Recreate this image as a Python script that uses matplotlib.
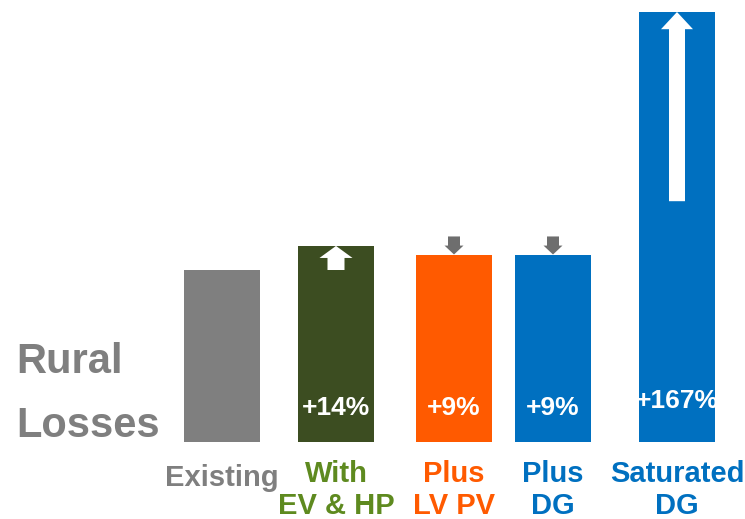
import matplotlib.pyplot as plt
from matplotlib.patches import Polygon

plt.rcParams['font.family'] = ['Liberation Sans', 'DejaVu Sans']
plt.rcParams['font.weight'] = 'bold'

# data
categories = ['Existing', 'With\nEV & HP', 'Plus\nLV PV', 'Plus\nDG', 'Saturated\nDG']
losses = [100, 114, 109, 109, 250]          # relative losses, as drawn
change_labels = ['', '+14%', '+9%', '+9%', '+167%']

# styling / layout
bar_colors = ['#7f7f7f', '#3c4d21', '#ff5a00', '#0070c0', '#0070c0']
text_colors = ['#7f7f7f', '#5e8a1f', '#ff5a00', '#0070c0', '#0070c0']
xpos = [222, 336, 454, 553, 677]
bar_w = 76
ppu = 1.72  # pixels per data unit


def py(p):
    # pixel row -> data y
    return (442 - p) / ppu


fig = plt.figure(figsize=(7.45, 5.19), dpi=100)
ax = fig.add_axes([0, 0, 1, 1])
ax.set_xlim(0, 745)
ax.set_ylim(py(519), py(0))
ax.axis('off')

ax.bar(xpos, losses, width=bar_w, color=bar_colors)


def up_arrow(cx, tip, head_h, head_hw, shaft_hw, tail, color):
    pts = [(cx, tip), (cx + head_hw, tip - head_h), (cx + shaft_hw, tip - head_h),
           (cx + shaft_hw, tail), (cx - shaft_hw, tail), (cx - shaft_hw, tip - head_h),
           (cx - head_hw, tip - head_h)]
    ax.add_patch(Polygon(pts, closed=True, color=color, lw=0))


def down_arrow(cx, tip, head_h, head_hw, shaft_hw, tail, color):
    pts = [(cx, tip), (cx + head_hw, tip + head_h), (cx + shaft_hw, tip + head_h),
           (cx + shaft_hw, tail), (cx - shaft_hw, tail), (cx - shaft_hw, tip + head_h),
           (cx - head_hw, tip + head_h)]
    ax.add_patch(Polygon(pts, closed=True, color=color, lw=0))


# arrows showing change from the existing level
up_arrow(xpos[1], losses[1], 7, 16.5, 8.5, losses[0], 'white')
down_arrow(xpos[2], losses[2], 5.2, 9.5, 6, losses[2] + 10.5, '#6e6e6e')
down_arrow(xpos[3], losses[3], 5.2, 9.5, 6, losses[3] + 10.5, '#6e6e6e')
up_arrow(xpos[4], losses[4], 10, 16, 8, 140, 'white')

# change labels inside bars
for i, lab in enumerate(change_labels):
    if lab:
        yy = py(401) if i == 4 else py(408)
        ax.text(xpos[i], yy, lab, color='white', fontsize=19,
                ha='center', va='center')

# category labels, one line at a time
for i, cat in enumerate(categories):
    lines = cat.split('\n')
    base = [486] if len(lines) == 1 else [482, 514]
    for line, b in zip(lines, base):
        ax.text(xpos[i], py(b), line, color=text_colors[i], fontsize=21,
                ha='center', va='baseline')

ax.text(16, py(373), 'Rural', color='#7f7f7f', fontsize=30, va='baseline')
ax.text(16, py(437), 'Losses', color='#7f7f7f', fontsize=30, va='baseline')

fig.savefig('out.png', dpi=100)
